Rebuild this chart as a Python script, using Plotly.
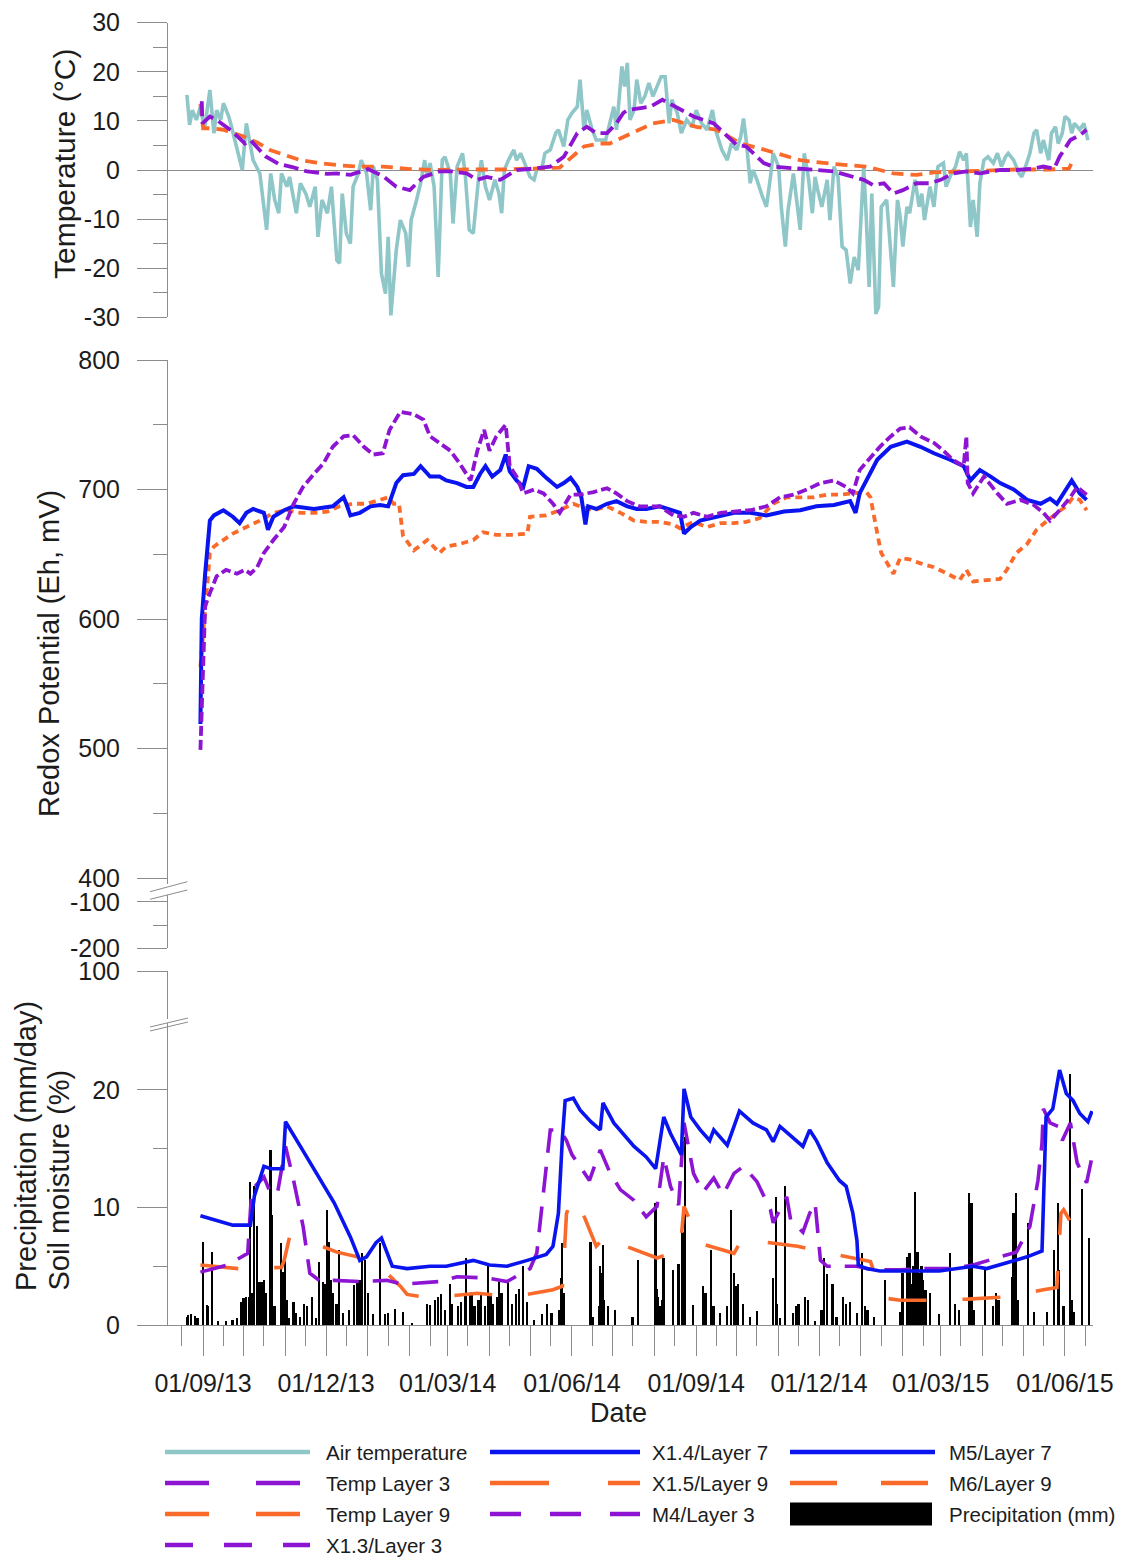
import pandas as pd
import plotly.graph_objects as go

W, H = 1124, 1558
START = pd.Timestamp("2013-09-01")

# ---- data (x = days after 01/09/13) ----
air_day = [-12, -10, -8, -5, -2, 1, 5, 8, 10, 13, 15, 19, 21, 25, 29, 32, 35, 37, 42, 47, 50, 53, 56, 58, 62, 64,
           69, 72, 76, 79, 83, 85, 88, 92, 95, 99, 101, 103, 106, 109, 111, 115, 117, 121, 124, 126, 129, 132, 135,
           137, 139, 141, 143, 146, 150, 152, 154, 158, 161, 164, 166, 168, 171, 174, 177, 179, 183, 185, 188, 192,
           194, 197, 200, 204, 206, 209, 212, 216, 219, 221, 223, 226, 230, 232, 235, 238, 242, 245, 247, 251, 253,
           257, 261, 263, 267, 270, 273, 277, 279, 282, 284, 288, 291, 298, 301, 304, 306, 310, 312, 314, 316, 319,
           321, 324, 327, 330, 333, 336, 339, 342, 345, 347, 351, 354, 358, 362, 365, 369, 373, 377, 380, 384, 388,
           391, 395, 398, 400, 402, 405, 407, 410, 414, 417, 420, 422, 426, 428, 431, 433, 437, 439, 442, 445, 448,
           451, 453, 455, 458, 462, 464, 467, 470, 473, 476, 479, 482, 485, 489, 491, 493, 495, 498, 500, 502, 506,
           509, 511, 514, 516, 518, 521, 523, 527, 530, 532, 534, 538, 541, 544, 548, 550, 554, 557, 560, 563, 565,
           568, 570, 573, 575, 578, 581, 585, 588, 591, 594, 596, 600, 604, 606, 608, 612, 615, 617, 620, 622, 626,
           628, 631, 633, 636, 638, 641, 643, 645, 649, 652, 655]
air_temp = [15.3, 9.2, 12.2, 10.2, 12.9, 8.2, 16.3, 7.5, 12.2, 10.2, 13.6, 10.9, 8.8, 4.1, 0.0, 9.5, 4.8, 2.0, -0.7,
            -12.2, -0.7, -6.1, -8.8, -0.7, -3.4, -1.4, -8.8, -2.7, -4.8, -7.5, -3.4, -13.6, -6.1, -8.8, -3.4, -18.4,
            -19.0, -4.8, -12.9, -15.0, -3.4, -0.7, 2.0, -0.7, -8.2, 0.7, -2.0, -21.1, -25.2, -13.6, -29.6, -23.8,
            -16.3, -10.2, -12.9, -19.7, -10.2, -6.1, -2.7, 2.0, -1.4, 1.4, -3.4, -21.8, 2.0, 2.7, -0.7, -10.9, 0.7,
            3.4, -0.7, -12.2, -12.9, -1.4, 2.0, -3.4, -6.1, -2.0, -4.8, -8.8, 0.0, 2.0, 4.1, 2.0, 3.4, 1.4, -1.4,
            -2.0, 0.0, 0.7, 3.4, 4.1, 7.5, 8.2, 4.8, 10.2, 11.6, 12.9, 18.4, 8.2, 12.2, 8.2, 6.1, 6.1, 9.5, 12.9,
            8.2, 21.1, 17.0, 21.8, 10.2, 12.2, 18.4, 13.6, 15.0, 17.7, 15.0, 17.0, 19.0, 19.0, 9.5, 14.3, 11.6, 7.5,
            10.2, 8.8, 12.2, 9.5, 8.2, 12.2, 7.5, 4.1, 2.0, 5.4, 4.1, 6.8, 10.5, 6.1, -2.7, 0.0, -2.0, -5.4, -7.5,
            -1.4, 3.4, 0.7, -7.5, -15.6, -8.2, -0.7, -4.8, -12.2, 3.4, -1.4, -8.8, -1.4, -4.1, -7.5, -2.0, -10.2,
            0.7, -1.4, -15.6, -16.3, -23.1, -17.7, -20.4, 0.7, -10.2, -23.8, -4.8, -29.3, -27.9, -7.5, -6.1, -17.0,
            -23.8, -6.1, -9.5, -15.6, -7.5, -8.8, -2.0, -7.5, -4.8, -10.2, -3.4, -7.5, 0.7, 1.4, -3.4, -0.7, 0.7,
            3.7, 2.0, 3.4, -11.6, -6.1, -13.6, -2.7, 2.0, 2.7, 1.4, 3.4, 0.7, 2.7, 3.4, 2.0, -0.7, -1.4, 0.0, 3.4,
            7.5, 8.2, 3.4, 6.1, 2.0, 7.5, 8.8, 5.4, 7.5, 10.9, 10.2, 7.5, 9.5, 8.2, 9.5, 6.1]

tl3_day = [-1, -0.5, 5, 10, 21, 31, 35, 46, 56, 66, 77, 92, 99, 109, 122, 133, 143, 153, 163, 175, 185, 195, 203,
           210, 220, 232, 245, 257, 267, 277, 284, 291, 299, 306, 311, 314, 324, 331, 340, 351, 363, 378, 395, 402,
           415, 422, 442, 454, 467, 476, 489, 496, 504, 511, 518, 528, 538, 546, 555, 565, 575, 590, 602, 615, 622,
           630, 634, 642, 649, 654]
tl3_temp = [14.0, 9.5, 10.9, 10.2, 8.0, 5.4, 6.1, 2.8, 1.2, 0.6, -0.3, -0.8, -0.7, -1.0, 0.2, -1.2, -3.4, -4.1,
            -1.4, -0.3, -0.3, -0.7, -2.0, -1.4, -2.0, 0.0, 0.3, 0.7, 2.7, 7.5, 8.8, 7.5, 7.5, 9.5, 11.6, 12.2, 12.6,
            12.9, 14.3, 12.6, 10.9, 9.5, 5.1, 4.8, 1.4, 0.7, 0.3, 0.0, -0.3, -1.0, -2.0, -3.1, -2.7, -4.8, -4.1,
            -2.7, -2.7, -2.0, -0.7, -0.3, -0.7, 0.0, 0.0, 0.3, 0.7, 0.3, 2.7, 6.1, 7.1, 8.2]

tl9_day = [-2, 0, 5, 15, 30, 40, 50, 60, 72, 84, 99, 114, 133, 153, 170, 195, 220, 245, 264, 282, 294, 301, 319,
           333, 348, 365, 380, 398, 412, 427, 442, 467, 491, 511, 528, 541, 560, 578, 602, 627, 641, 644]
tl9_temp = [13.5, 8.5, 8.5, 8.2, 6.8, 5.6, 4.0, 3.0, 2.0, 1.5, 1.0, 0.7, 0.7, 0.2, 0.0, 0.1, 0.1, 0.3, 0.5, 4.8,
            5.4, 5.4, 7.8, 9.5, 10.2, 8.8, 8.2, 5.4, 4.4, 3.1, 2.0, 1.2, 0.7, -0.7, -1.0, -0.5, -0.3, 0.0, 0.1, 0.1,
            0.3, 2.0]

x13_day = [-2, 1.5, 5, 10, 17, 25, 31, 35, 40, 45, 52, 60, 67, 74, 82, 89, 96, 104, 111, 119, 126, 133, 138, 146,
           156, 163, 168, 175, 183, 190, 198, 203, 208, 212, 217, 224, 227, 232, 237, 245, 252, 259, 264, 272, 279,
           289, 299, 306, 314, 323, 338, 348, 356, 363, 373, 383, 393, 405, 417, 427, 437, 447, 457, 467, 476, 481,
           486, 494, 501, 509, 516, 523, 531, 541, 548, 555, 563, 565, 566, 570, 578, 588, 595, 605, 615, 622, 627,
           634, 642, 647, 654]
x13_eh = [499, 610, 620, 633, 638, 635, 638, 635, 640, 651, 661, 671, 689, 702, 712, 720, 733, 741, 742, 733, 727,
          728, 746, 760, 758, 754, 741, 736, 730, 720, 707, 730, 746, 730, 741, 750, 718, 710, 697, 700, 697, 689,
          682, 696, 696, 698, 701, 697, 691, 687, 687, 680, 679, 682, 679, 682, 683, 684, 687, 694, 696, 700, 705,
          707, 702, 697, 715, 725, 733, 741, 747, 748, 741, 736, 730, 723, 718, 741, 705, 697, 710, 697, 689, 692,
          688, 682, 676, 684, 694, 702, 696]

x14_day = [-2, -1, 1.5, 5, 8, 15, 22, 27, 32, 37, 45, 48, 52, 60, 67, 82, 96, 104, 106, 109, 116, 124, 131, 137,
           143, 148, 156, 161, 168, 175, 180, 188, 195, 200, 205, 209, 214, 220, 224, 227, 232, 237, 241, 247, 254,
           262, 267, 272, 277, 280, 283, 285, 291, 299, 306, 314, 321, 328, 338, 348, 353, 356, 361, 368, 380, 393,
           405, 417, 430, 442, 454, 467, 479, 483, 486, 491, 499, 509, 521, 531, 541, 553, 563, 568, 575, 583, 590,
           600, 610, 620, 627, 632, 637, 643, 649, 654]
x14_eh = [519, 600, 635, 676, 680, 684, 679, 674, 682, 685, 682, 669, 679, 684, 687, 685, 687, 694, 689, 680, 682,
          687, 688, 687, 705, 711, 712, 718, 710, 710, 707, 705, 702, 702, 712, 718, 710, 715, 727, 714, 707, 702,
          718, 716, 709, 702, 705, 709, 702, 694, 673, 687, 685, 689, 691, 687, 685, 685, 687, 684, 682, 666, 671,
          676, 679, 682, 682, 680, 683, 684, 687, 688, 691, 682, 697, 707, 723, 733, 737, 733, 728, 723, 718, 707,
          715, 710, 705, 700, 692, 689, 693, 689, 697, 707, 697, 692]

x15_day = [-2, 1.5, 5, 8, 15, 22, 32, 42, 52, 62, 72, 82, 92, 101, 111, 121, 131, 137, 141, 145, 148, 156, 166, 175,
           180, 190, 200, 207, 217, 230, 240, 242, 254, 264, 274, 279, 289, 299, 309, 319, 328, 338, 348, 353, 363,
           373, 383, 393, 402, 412, 422, 432, 442, 452, 462, 472, 481, 491, 494, 497, 500, 502, 511, 516, 523, 531,
           541, 551, 560, 565, 570, 580, 590, 595, 602, 610, 617, 625, 632, 639, 644, 649, 654]
x15_eh = [563, 610, 651, 656, 661, 666, 671, 676, 682, 684, 682, 682, 683, 687, 689, 689, 692, 694, 689, 689, 664,
          653, 661, 651, 656, 658, 661, 667, 665, 665, 666, 679, 680, 684, 689, 687, 684, 687, 682, 676, 675, 675,
          673, 670, 675, 671, 674, 674, 675, 678, 689, 694, 694, 694, 696, 696, 697, 698, 694, 676, 661, 651, 635,
          647, 646, 643, 640, 635, 630, 638, 629, 630, 631, 638, 651, 658, 669, 676, 682, 687, 694, 692, 684]

m4_day = [-2, 18, 33, 36, 45, 50, 55, 61, 67, 74, 79, 87, 97, 116, 136, 146, 151, 175, 188, 210, 225, 242, 247, 252,
          257, 264, 269, 273, 279, 286, 294, 301, 309, 319, 328, 336, 341, 346, 352, 356, 363, 370, 378, 385, 393,
          400, 410, 420, 422, 432, 435, 444, 449, 453, 457, 462, 484, 496, 516, 535, 555, 570, 587, 602, 612, 618,
          621, 622, 627, 633, 636, 642, 647, 654, 658]
m4_sm = [4.5, 5.1, 6.1, 11.5, 12.6, 11.2, 11.2, 15.2, 12.3, 8.4, 4.4, 3.7, 3.8, 3.7, 3.8, 3.5, 3.5, 3.7, 4.1, 4.0,
         3.7, 4.8, 6.1, 11.5, 16.6, 16.6, 15.7, 14.5, 13.5, 12.3, 14.9, 13.0, 11.5, 10.6, 9.2, 10.1, 14.3, 11.8,
         10.2, 17.2, 12.9, 11.3, 12.5, 11.1, 12.9, 13.5, 12.2, 9.8, 8.7, 10.9, 8.9, 7.9, 9.5, 10.4, 5.5, 5.0, 5.0,
         4.7, 4.7, 4.8, 4.8, 5.1, 5.7, 6.2, 8.4, 12.3, 15.5, 18.4, 17.2, 16.9, 15.7, 17.2, 13.8, 12.1, 14.3]

m5_day = [-2, 10, 22, 35, 38, 45, 50, 59, 61, 72, 84, 97, 109, 116, 121, 128, 132, 136, 140, 151, 168, 180, 200,
          212, 225, 240, 254, 259, 263, 266, 268, 274, 279, 287, 294, 296, 304, 319, 328, 335, 341, 346, 354, 356,
          361, 368, 375, 378, 388, 393, 397, 407, 417, 422, 427, 434, 444, 449, 454, 462, 471, 476, 481, 484, 485,
          491, 501, 521, 545, 570, 580, 595, 610, 621, 622.5, 624, 629, 634, 639, 644, 649, 655, 658]
m5_sm = [9.3, 8.9, 8.5, 8.5, 11.0, 13.5, 13.3, 13.3, 17.3, 15.2, 12.9, 10.4, 7.5, 5.5, 5.8, 7.0, 7.4, 6.2, 5.0, 4.8,
         5.0, 5.0, 5.5, 5.1, 5.0, 5.5, 6.0, 6.7, 9.5, 16.0, 19.1, 19.3, 18.3, 17.3, 16.6, 18.9, 17.2, 15.2, 14.3,
         13.3, 17.7, 16.3, 14.5, 20.1, 17.7, 16.6, 15.7, 16.6, 15.3, 16.9, 18.2, 17.2, 16.6, 15.6, 16.9, 16.2, 15.2,
         16.6, 15.7, 13.8, 12.3, 11.8, 9.5, 7.2, 5.1, 4.8, 4.6, 4.6, 4.6, 5.0, 4.8, 5.3, 5.8, 6.3, 12.9, 17.7, 18.4,
         21.7, 19.7, 19.1, 18.0, 17.3, 18.2]

m6_day = [-2, 26, 58, 60, 64, 72, 99, 126, 146, 151, 168, 203, 230, 259, 266, 267, 269, 274, 279, 291, 299, 306,
          336, 346, 353, 356, 361, 366, 393, 400, 405, 412, 440, 464, 494, 499, 504, 516, 539, 566, 595, 622, 632,
          635, 637, 647, 656]
m6_sm = [5.1, 4.8, 4.9, 5.5, 7.5, 7.4, 6.2, 5.5, 3.3, 2.6, 2.3, 2.7, 2.4, 3.0, 3.3, 5.8, 9.5, 10.9, 10.1, 6.7, 7.7,
         7.0, 5.7, 6.1, 6.2, 10.1, 8.7, 7.0, 6.1, 7.5, 7.5, 7.1, 6.7, 6.1, 5.4, 3.8, 2.3, 2.1, 2.1, 2.2, 2.4, 3.0,
         3.2, 9.5, 9.8, 7.8, 6.4]

rain_day = [-12, -11, -9, -6, -4, 0, 3, 4, 7, 11, 17, 22, 25, 28, 30, 32, 34, 35, 36, 38, 40, 42, 44, 45, 47, 50, 51,
            53, 58, 59, 61, 62, 64, 67, 69, 72, 75, 77, 81, 84, 86, 89, 90, 92, 93, 95, 96, 99, 101, 104, 108, 112,
            114, 116, 118, 120, 122, 126, 131, 135, 137, 142, 148, 155, 166, 168, 172, 174, 176, 179, 183, 184, 189,
            191, 194, 195, 198, 199, 201, 204, 206, 209, 211, 213, 215, 218, 219, 221, 226, 229, 232, 234, 237, 240,
            245, 251, 255, 258, 264, 265, 266, 267, 287, 289, 293, 294, 295, 296, 297, 300, 305, 318, 322, 335, 336,
            337, 338, 340, 341, 348, 352, 355, 357, 363, 370, 372, 376, 378, 383, 388, 391, 393, 395, 396, 400, 405,
            410, 422, 424, 425, 427, 431, 437, 439, 441, 446, 448, 453, 458, 460, 462, 466, 469, 474, 476, 479, 484,
            488, 490, 492, 497, 505, 516, 518, 521, 523, 525, 526, 527, 529, 530, 532, 533, 535, 538, 545, 553, 557,
            560, 567, 569, 571, 579, 585, 587, 589, 599, 600, 602, 603, 611, 615, 625, 630, 633, 634, 637, 642, 643,
            645, 651, 656]
rain_mm = [0.7, 0.85, 0.9, 0.8, 0.6, 7.1, 1.7, 1.6, 6.2, 0.3, 0.3, 0.4, 0.6, 2.0, 2.3, 2.4, 2.4, 12.2, 2.7, 11.8,
           8.4, 3.7, 3.7, 3.8, 2.7, 14.9, 9.4, 1.6, 7.0, 4.5, 5.8, 2.1, 0.6, 2.0, 1.0, 0.7, 1.8, 1.6, 2.4, 0.6, 5.4,
           3.7, 3.5, 9.8, 7.1, 3.8, 2.7, 1.8, 6.4, 1.0, 1.3, 3.4, 3.8, 3.8, 6.1, 5.5, 2.7, 0.9, 7.0, 0.9, 1.0, 1.4,
           1.1, 0.2, 1.8, 1.7, 2.1, 2.4, 2.6, 1.3, 3.5, 1.8, 1.6, 2.0, 2.7, 5.7, 2.7, 2.8, 1.6, 2.1, 2.7, 1.6, 5.0,
           2.7, 1.8, 2.4, 3.7, 2.7, 3.8, 1.8, 2.6, 3.1, 5.0, 2.0, 0.4, 0.9, 1.8, 1.0, 1.3, 4.0, 7.0, 2.7, 7.1, 0.7,
           1.6, 5.0, 4.4, 6.8, 2.1, 1.6, 1.3, 0.7, 5.5, 10.4, 3.1, 2.4, 1.6, 2.1, 5.7, 4.7, 5.2, 7.9, 16.0, 1.7, 3.3,
           2.7, 6.4, 1.6, 1.0, 1.6, 9.8, 4.4, 3.3, 3.5, 1.8, 0.7, 1.2, 4.0, 10.9, 1.8, 0.6, 11.8, 1.0, 1.6, 1.8, 2.4,
           2.1, 0.3, 1.3, 5.7, 4.3, 3.5, 0.7, 2.4, 1.8, 2.0, 1.0, 6.1, 1.6, 1.3, 0.7, 3.8, 1.1, 4.4, 5.8, 6.1, 3.5,
           5.0, 11.3, 6.2, 4.4, 5.0, 3.8, 3.0, 2.7, 0.9, 6.1, 1.8, 1.3, 11.2, 10.4, 1.3, 4.7, 1.6, 2.7, 2.1, 4.1,
           9.5, 11.2, 2.1, 8.7, 1.1, 1.1, 6.4, 10.4, 4.7, 1.6, 21.4, 2.1, 1.1, 11.6, 7.4]

tick_dates = ["2013-09-01", "2013-12-01", "2014-03-01", "2014-06-01",
              "2014-09-01", "2014-12-01", "2015-03-01", "2015-06-01"]
tick_labels = ["01/09/13", "01/12/13", "01/03/14", "01/06/14",
               "01/09/14", "01/12/14", "01/03/15", "01/06/15"]
temp_ticks = [-30, -20, -10, 0, 10, 20, 30]
redox_ticks = [400, 500, 600, 700, 800]
redox_low_ticks = [-200, -100]
moist_ticks = [0, 10, 20]

# ---- styles ----
FONT = "Liberation Sans, Arial, Helvetica, sans-serif"
GREY = "#8c8c8c"
TXT = "#1c1c1c"
TEAL = "#8fc6c8"
PURPLE = "#8c14d2"
ORANGE = "#f96a2b"
BLUE = "#0a14ee"


def dates(days):
    return START + pd.to_timedelta(days, unit="D")


def py(p):
    # pixel row -> paper y
    return 1 - p / H


def line(days, vals, color, dash, yaxis, width=3.8):
    return go.Scatter(x=dates(days), y=vals, mode="lines", yaxis=yaxis, xaxis="x",
                      line=dict(color=color, width=width, dash=dash), hoverinfo="skip")


fig = go.Figure()

# top panel
fig.add_trace(line(air_day, air_temp, TEAL, "solid", "y", 3.6))
fig.add_trace(line(tl9_day, tl9_temp, ORANGE, "12px,7px", "y"))
fig.add_trace(line(tl3_day, tl3_temp, PURPLE, "15px,6px", "y"))

# redox panel
fig.add_trace(line(x15_day, x15_eh, ORANGE, "7px,5px", "y2"))
fig.add_trace(line(x14_day, x14_eh, BLUE, "solid", "y2", 4))
fig.add_trace(line(x13_day, x13_eh, PURPLE, "10px,4px", "y2"))

# empty traces so the broken-axis stubs get drawn
fig.add_trace(go.Scatter(x=[], y=[], xaxis="x", yaxis="y3", hoverinfo="skip"))
fig.add_trace(go.Scatter(x=[], y=[], xaxis="x", yaxis="y4", hoverinfo="skip"))

# precipitation / soil moisture panel
fig.add_trace(go.Bar(x=dates(rain_day), y=rain_mm, width=86400000 * 1.3, yaxis="y5", xaxis="x",
                     marker=dict(color="black", line=dict(width=0)), hoverinfo="skip"))
fig.add_trace(line(m6_day, m6_sm, ORANGE, "38px,36px", "y5", 3.6))
fig.add_trace(line(m4_day, m4_sm, PURPLE, "26px,14px", "y5", 3.6))
fig.add_trace(line(m5_day, m5_sm, BLUE, "solid", "y5", 3.6))

# axes
month_ticks = pd.date_range("2013-09-01", "2015-06-01", freq="MS")
mid_ticks = pd.date_range("2013-08-01", "2015-06-01", freq="MS") + pd.Timedelta(days=15)
month_text = [tick_labels[tick_dates.index(d.strftime("%Y-%m-%d"))]
              if d.strftime("%Y-%m-%d") in tick_dates else "" for d in month_ticks]

yax = dict(showline=True, linecolor=GREY, linewidth=1, ticks="outside", ticklen=30, tickwidth=1,
           tickcolor=GREY, showgrid=False, zeroline=False, anchor="x", ticklabelstandoff=12,
           tickmode="array", tickfont=dict(size=25, color=TXT, family=FONT))


def minor(vals):
    return dict(ticks="outside", ticklen=14, tickcolor=GREY, tickwidth=1,
                tickmode="array", tickvals=vals, showgrid=False)


fig.update_layout(
    width=W, height=H,
    margin=dict(l=0, r=0, t=0, b=0, autoexpand=False),
    paper_bgcolor="white", plot_bgcolor="white",
    showlegend=False, bargap=0,
    font=dict(family=FONT, color=TXT),
    xaxis=dict(domain=[168 / W, 1093 / W], type="date", range=["2013-08-06", "2015-06-21 18:00"],
               anchor="y5", showline=True, linecolor=GREY, linewidth=1, showgrid=False, zeroline=False,
               ticks="outside", ticklen=30, tickcolor=GREY, tickwidth=1,
               tickmode="array", tickvals=month_ticks, ticktext=month_text, ticklabelstandoff=6,
               tickfont=dict(size=25, color=TXT, family=FONT),
               minor=dict(ticks="outside", ticklen=20, tickcolor=GREY, tickwidth=1,
                          tickmode="array", tickvals=mid_ticks, showgrid=False)),
    yaxis=dict(yax, domain=[py(317.3), py(22.7)], range=[-30, 30],
               tickvals=temp_ticks, ticktext=[str(v) for v in temp_ticks],
               zeroline=True, zerolinecolor=GREY, zerolinewidth=1,
               minor=minor([-25, -15, -5, 5, 15, 25])),
    yaxis2=dict(yax, domain=[py(884), py(360)], range=[395.4, 800],
                tickvals=redox_ticks, ticktext=[str(v) for v in redox_ticks],
                minor=minor([450, 550, 650, 750])),
    yaxis3=dict(yax, domain=[py(948), py(895)], range=[-200, -84.8],
                tickvals=redox_low_ticks, ticktext=[str(v) for v in redox_low_ticks],
                minor=minor([-150])),
    yaxis4=dict(yax, domain=[py(1019), py(971)], range=[95, 100], tickvals=[100], ticktext=["100"]),
    yaxis5=dict(yax, domain=[py(1325), py(1023)], range=[0, 25.7],
                tickvals=moist_ticks, ticktext=[str(v) for v in moist_ticks],
                minor=minor([5, 15])),
)

shapes = []
annos = []

# axis breaks
for (x0, y0, x1, y1) in [(150, 891.7, 187.3, 881.7), (150, 899.3, 187.3, 890),
                         (150, 1027, 188, 1018), (150, 1031, 188, 1022)]:
    shapes.append(dict(type="line", xref="paper", yref="paper", x0=x0 / W, y0=py(y0), x1=x1 / W, y1=py(y1),
                       line=dict(color=GREY, width=1)))

# axis titles
annos.append(dict(text="Temperature (°C)", x=64 / W, y=py(164), textangle=-90, font=dict(size=30)))
annos.append(dict(text="Redox Potential (Eh, mV)", x=49 / W, y=py(654), textangle=-90, font=dict(size=29)))
annos.append(dict(text="Precipitation (mm/day)", x=26 / W, y=py(1293), yanchor="bottom", textangle=-90,
                  font=dict(size=29)))
annos.append(dict(text="Soil moisture (%)", x=58 / W, y=py(1293), yanchor="bottom", textangle=-90,
                  font=dict(size=29)))
annos.append(dict(text="Date", x=618 / W, y=py(1413), font=dict(size=27)))

# legend (drawn by hand so the long line samples match)
col_line = [(165, 310), (490, 640), (790, 935)]
col_text = [324, 650, 947]
rows = [1452, 1483, 1514, 1545]
legend_items = [
    ("Air temperature", TEAL, "solid"), ("X1.4/Layer 7", BLUE, "solid"), ("M5/Layer 7", BLUE, "solid"),
    ("Temp Layer 3", PURPLE, "44px,47px"), ("X1.5/Layer 9", ORANGE, "59px,59px"), ("M6/Layer 9", ORANGE, "47px,44px"),
    ("Temp Layer 9", ORANGE, "44px,47px"), ("M4/Layer 3", PURPLE, "31px,29px"), ("Precipitation (mm)", "black", "bar"),
    ("X1.3/Layer 3", PURPLE, "28px,31px"),
]
for i, (name, color, dash) in enumerate(legend_items):
    r, c = divmod(i, 3)
    yy = rows[r]
    x0, x1 = col_line[c]
    if dash == "bar":
        shapes.append(dict(type="rect", xref="paper", yref="paper", x0=x0 / W, x1=(x1 - 3) / W,
                           y0=py(yy + 11.5), y1=py(yy - 11.5), fillcolor="black", line=dict(width=0)))
    else:
        shapes.append(dict(type="line", xref="paper", yref="paper", x0=x0 / W, x1=x1 / W, y0=py(yy), y1=py(yy),
                           line=dict(color=color, width=4.5, dash=dash)))
    annos.append(dict(text=name, x=col_text[c] / W, y=py(yy), xanchor="left", font=dict(size=20.5)))

for a in annos:
    a.setdefault("xref", "paper")
    a.setdefault("yref", "paper")
    a.setdefault("showarrow", False)
    a.setdefault("xanchor", "center")
    a.setdefault("yanchor", "middle")
    a["font"] = dict(a["font"], color=TXT, family=FONT)

fig.update_layout(shapes=shapes, annotations=annos)

# the page's default body margin would push the figure 8px right/down
fig.write_html("out.html", config={"displayModeBar": False},
               post_script="document.body.style.margin='0px';")
